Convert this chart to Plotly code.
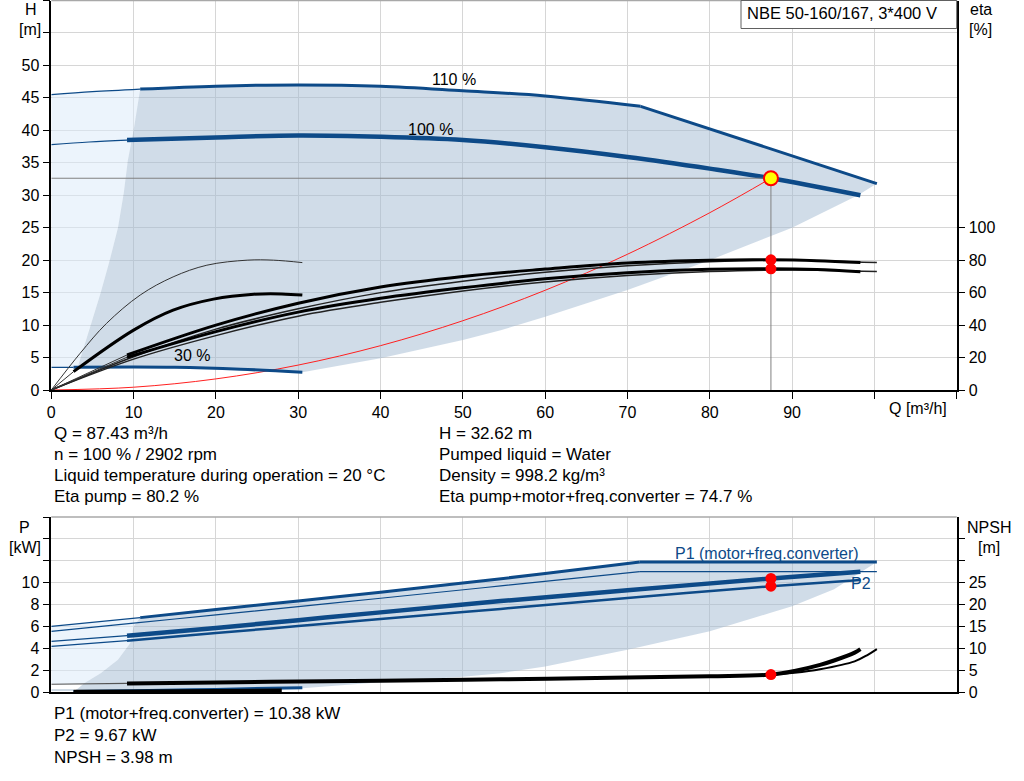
import plotly.graph_objects as go

# operating point
q_op = 87.43
h_op = 32.62
eta_pump_op = 80.2
eta_total_op = 74.7
p1_op = 10.38
p2_op = 9.67
npsh_op = 3.98

# head curves  (Q [m3/h], H [m])
q_110_thin = [0, 5, 10.8]
h_110_thin = [45.5, 45.95, 46.35]
q_110 = [10.8, 20, 30, 40, 50, 60, 71.6]
h_110 = [46.35, 46.8, 47.0, 46.8, 46.1, 45.3, 43.7]
q_110_lim = [71.6, 100.3]
h_110_lim = [43.7, 31.8]

q_100_thin = [0, 4.6, 9.2]
h_100_thin = [37.8, 38.2, 38.5]
q_100 = [9.2, 20, 30, 40, 50, 60, 70, 80, 87.43, 98.3]
h_100 = [38.5, 38.9, 39.2, 39.0, 38.5, 37.4, 35.9, 34.1, 32.62, 30.0]

q_30_thin = [0, 2.7]
h_30_thin = [3.5, 3.5]
q_30 = [2.7, 10, 15, 23, 30.5]
h_30 = [3.5, 3.55, 3.5, 3.2, 2.75]

# system curve through the duty point
q_sys = [0, 10, 20, 30, 40, 50, 60, 70, 80, 87.43]
h_sys = [0, 0.43, 1.71, 3.84, 6.83, 10.67, 15.36, 20.91, 27.31, 32.62]

# operating range (H)
q_area = [10.8, 20, 30, 40, 50, 60, 71.6, 100.3, 98, 90, 80, 70, 60, 54.6, 50, 40, 30.5,
          23, 15, 10, 3.2, 4.7, 6.0, 7.1, 8.1, 8.8, 9.3, 10, 10.8]
h_area = [46.35, 46.8, 47.0, 46.8, 46.1, 45.3, 43.7, 31.8, 30.0, 25.0, 20.0, 15.4, 11.3, 9.2, 7.7, 4.9, 2.75,
          3.2, 3.5, 3.55, 3.5, 9.7, 15.0, 20.0, 25.0, 30.3, 35.4, 40.0, 46.35]
q_area_lo = [0, 0, 5, 10.8, 10, 9.3, 8.8, 8.1, 7.1, 6.0, 4.7, 3.2, 0]
h_area_lo = [3.5, 45.5, 45.95, 46.35, 40.0, 35.4, 30.3, 25.0, 20.0, 15.0, 9.7, 3.5, 3.5]

# efficiency curves (eta %)
q_ep30 = [0, 3.5, 6.7, 10.8, 14.8, 18.9, 23.8, 27, 30.5]
eta_ep30 = [0, 22.6, 41, 58.5, 69.7, 76.9, 80, 80, 78.5]
q_et30_thin = [0, 2.7]
eta_et30_thin = [0, 11.3]
q_et30 = [2.7, 10, 14.8, 19.7, 24.6, 28, 30.5]
eta_et30 = [11.3, 36.9, 49.2, 56, 59, 59.2, 58.5]

q_ep100_thin = [0, 9.2]
eta_ep100_thin = [0, 21.6]
q_ep100 = [9.2, 20, 30, 40, 50, 60, 70, 80, 87.43, 93, 98.3]
eta_ep100 = [21.6, 40, 53.5, 63.5, 70, 74.5, 78.3, 80, 80.2, 79.7, 78.5]
q_et100_thin = [0, 9.2]
eta_et100_thin = [0, 20.2]
q_et100 = [9.2, 20, 30, 40, 50, 60, 70, 80, 87.43, 93, 98.3]
eta_et100 = [20.2, 36, 48, 56.5, 63, 68.5, 72.3, 74.4, 74.7, 74.2, 72.8]

q_e110 = [0, 10, 20, 30, 40, 50, 60, 70, 80, 90, 100.3]
eta_ep110 = [0, 20.5, 37.5, 50, 60, 67, 72.5, 76.5, 79, 80, 78.5]
eta_et110 = [0, 19, 33.5, 45.5, 54, 61, 66.5, 70.5, 73, 74, 73]

# power curves (P [kW])
q_p1_110_thin = [0, 10.8]
p1_110_thin = [6.0, 6.8]
q_p1_110 = [10.8, 20, 30, 40, 50, 60, 71.5]
p1_110 = [6.8, 7.55, 8.33, 9.13, 9.96, 10.83, 11.88]
q_p1_110_lim = [71.5, 100.3]
p1_110_lim = [11.88, 11.88]
q_p2_110 = [0, 10, 20, 30, 40, 54.6, 71.5]
p2_110 = [5.55, 6.3, 7.05, 7.8, 8.57, 9.7, 11.0]
q_p2_110_lim = [71.5, 100.3]
p2_110_lim = [11.0, 11.0]

q_p100_thin = [0, 9.2]
p1_100_thin = [4.63, 5.15]
p2_100_thin = [4.17, 4.69]
q_p100 = [9.2, 20, 30, 40, 54.6, 70, 87.43, 98.3]
p1_100 = [5.15, 5.86, 6.57, 7.28, 8.31, 9.3, 10.38, 11.0]
p2_100 = [4.69, 5.39, 6.03, 6.67, 7.6, 8.6, 9.67, 10.25]

q_p30_thin = [0, 2.7]
p1_30_thin = [0.18, 0.18]
q_p30 = [2.7, 10, 20, 30.5]
p1_30 = [0.05, 0.12, 0.24, 0.4]

# operating range (P)
q_parea = [10.8, 20, 30, 40, 50, 60, 71.5, 100.3, 95.1, 90, 87.4, 80, 70, 60, 54.6, 50, 40, 30.5,
           20, 10, 2.6, 3.2, 4.0, 6.0, 8.1, 9.6, 10, 10.8]
p_parea = [6.8, 7.55, 8.33, 9.13, 9.96, 10.83, 11.88, 11.88, 9.4, 7.85, 7.24, 5.55, 3.86, 2.33, 1.72, 1.4, 0.9,
           0.35, 0.25, 0.12, 0.05, 0.3, 0.8, 1.72, 2.94, 4.47, 6.0, 6.8]
q_parea_lo = [0, 0, 10.8, 10, 9.6, 8.1, 6.0, 4.0, 3.8, 0]
p_parea_lo = [0.71, 6.0, 6.8, 6.0, 4.47, 2.94, 1.72, 0.8, 0.71, 0.71]

# NPSH curves (m)
q_npsh100_thin = [0, 9.2]
npsh100_thin = [1.77, 1.95]
q_npsh100 = [9.2, 20, 30, 40, 54.6, 70, 80, 87.43, 90.3, 93.4, 95.1, 97.6, 98.3]
npsh100 = [1.95, 2.2, 2.4, 2.6, 2.9, 3.3, 3.6, 3.98, 4.8, 6.2, 7.2, 9.0, 9.8]
q_npsh110 = [60, 70, 80, 87.43, 90.3, 93.4, 97.6, 99.2, 100.3]
npsh110 = [3.0, 3.3, 3.6, 3.98, 4.4, 5.2, 7.0, 8.5, 9.8]
q_npsh30 = [2.7, 10, 20, 28]
npsh30 = [0.05, 0.12, 0.22, 0.35]

# axis ticks
q_ticks = list(range(0, 111, 10))
q_ticktext = [str(v) for v in range(0, 91, 10)] + ["", ""]
h_ticks = list(range(0, 61, 5))
h_ticktext = [str(v) for v in range(0, 51, 5)] + ["", ""]
eta_ticks = list(range(0, 101, 20))
p_ticks = list(range(0, 17, 2))
p_ticktext = [str(v) for v in range(0, 11, 2)] + ["", "", ""]
npsh_ticks = list(range(0, 36, 5))
npsh_ticktext = [str(v) for v in range(0, 26, 5)] + ["", ""]

W, H = 1024, 781
BLUE = "#0d4a88"
GRID = "#d6d6d6"
FILL = "rgba(161,185,209,0.5)"
FILL_LO = "rgba(221,235,249,0.55)"
FONT = "Liberation Sans, Arial, sans-serif"


def px(x):
    return x / W


def py(y):
    return 1 - y / H


fig = go.Figure()


def curve(q, v, xa, ya, color, width, shape="spline"):
    fig.add_trace(go.Scatter(
        x=q, y=v, xaxis=xa, yaxis=ya, mode="lines",
        line=dict(color=color, width=width, shape=shape), hoverinfo="skip"))


def area(q, v, xa, ya, color):
    fig.add_trace(go.Scatter(
        x=q, y=v, xaxis=xa, yaxis=ya, mode="lines", line=dict(width=0),
        fill="toself", fillcolor=color, hoverinfo="skip"))


# ---- top chart: H and eta ----
area(q_area_lo, h_area_lo, "x", "y", FILL_LO)
area(q_area, h_area, "x", "y", FILL)

curve(q_sys, h_sys, "x", "y", "#ff2020", 1)

curve(q_110_thin, h_110_thin, "x", "y", BLUE, 1.2)
curve(q_110, h_110, "x", "y", BLUE, 3)
curve(q_110_lim, h_110_lim, "x", "y", BLUE, 3, shape="linear")
curve(q_100_thin, h_100_thin, "x", "y", BLUE, 1.2)
curve(q_100, h_100, "x", "y", BLUE, 4.5)
curve(q_30_thin, h_30_thin, "x", "y", BLUE, 1.2)
curve(q_30, h_30, "x", "y", BLUE, 3)

curve(q_ep30, eta_ep30, "x", "y2", "#333333", 1)
curve(q_et30_thin, eta_et30_thin, "x", "y2", "#333333", 1)
curve(q_et30, eta_et30, "x", "y2", "black", 3)
curve(q_e110, eta_ep110, "x", "y2", "#222222", 1.5)
curve(q_e110, eta_et110, "x", "y2", "#222222", 1.5)
curve(q_ep100_thin, eta_ep100_thin, "x", "y2", "#333333", 1)
curve(q_et100_thin, eta_et100_thin, "x", "y2", "#333333", 1)
curve(q_ep100, eta_ep100, "x", "y2", "black", 3)
curve(q_et100, eta_et100, "x", "y2", "black", 3)

# duty point guide lines
curve([0, q_op], [h_op, h_op], "x", "y", "#808080", 1, shape="linear")
curve([q_op, q_op], [h_op, 0], "x", "y", "#808080", 1, shape="linear")

fig.add_trace(go.Scatter(x=[q_op, q_op], y=[eta_pump_op, eta_total_op], xaxis="x", yaxis="y2",
                         mode="markers", marker=dict(color="red", size=11), hoverinfo="skip"))
fig.add_trace(go.Scatter(x=[q_op], y=[h_op], xaxis="x", yaxis="y", mode="markers",
                         marker=dict(color="yellow", size=14, line=dict(color="red", width=2)),
                         hoverinfo="skip"))

# ---- bottom chart: P and NPSH ----
area(q_parea_lo, p_parea_lo, "x2", "y3", FILL_LO)
area(q_parea, p_parea, "x2", "y3", FILL)

curve(q_p1_110_thin, p1_110_thin, "x2", "y3", BLUE, 1.2)
curve(q_p1_110, p1_110, "x2", "y3", BLUE, 3)
curve(q_p1_110_lim, p1_110_lim, "x2", "y3", BLUE, 3, shape="linear")
curve(q_p2_110, p2_110, "x2", "y3", BLUE, 1.2)
curve(q_p2_110_lim, p2_110_lim, "x2", "y3", BLUE, 1.2, shape="linear")
curve(q_p100_thin, p1_100_thin, "x2", "y3", BLUE, 1.2)
curve(q_p100_thin, p2_100_thin, "x2", "y3", BLUE, 1.2)
curve(q_p100, p1_100, "x2", "y3", BLUE, 4.5)
curve(q_p100, p2_100, "x2", "y3", BLUE, 2.5)

curve(q_npsh100_thin, npsh100_thin, "x2", "y4", "#555555", 1.2)
curve(q_npsh100, npsh100, "x2", "y4", "black", 4)
curve(q_npsh110, npsh110, "x2", "y4", "black", 2)
curve(q_npsh30, npsh30, "x2", "y4", "black", 4)
curve(q_p30_thin, p1_30_thin, "x2", "y3", "#9fb6cc", 1)
curve(q_p30, p1_30, "x2", "y3", BLUE, 3)

fig.add_trace(go.Scatter(x=[q_op, q_op], y=[p1_op, p2_op], xaxis="x2", yaxis="y3",
                         mode="markers", marker=dict(color="red", size=11), hoverinfo="skip"))
fig.add_trace(go.Scatter(x=[q_op], y=[npsh_op], xaxis="x2", yaxis="y4",
                         mode="markers", marker=dict(color="red", size=11), hoverinfo="skip"))

X0, X1 = px(51.3), px(956.7)
TOP = [py(390), py(0.5)]
BOT = [py(692), py(517)]

axis_common = dict(showline=True, linecolor="black", linewidth=1.5, ticks="outside",
                   ticklen=7, tickcolor="black", zeroline=False, automargin=False,
                   tickfont=dict(family=FONT, size=16, color="black"))

fig.update_layout(
    width=W, height=H, margin=dict(l=0, r=0, t=0, b=0, autoexpand=False),
    paper_bgcolor="white", plot_bgcolor="white", showlegend=False,
    font=dict(family=FONT, size=16, color="black"),
    xaxis=dict(domain=[X0, X1], range=[0, 110], anchor="y", tickmode="array",
               tickvals=q_ticks, ticktext=q_ticktext, showgrid=True, gridcolor=GRID, **axis_common),
    yaxis=dict(domain=TOP, range=[0, 60], anchor="x", tickmode="array",
               tickvals=h_ticks, ticktext=h_ticktext, showgrid=True, gridcolor=GRID, **axis_common),
    yaxis2=dict(domain=TOP, range=[0, 240], anchor="x", overlaying="y", side="right",
                tickmode="array", tickvals=eta_ticks, showgrid=False, **axis_common),
    xaxis2=dict(domain=[X0, X1], range=[0, 110], anchor="y3", tickmode="array",
                tickvals=q_ticks, showticklabels=False, showgrid=True, gridcolor=GRID,
                showline=True, linecolor="black", linewidth=1.5, ticks="", zeroline=False,
                automargin=False),
    yaxis3=dict(domain=BOT, range=[0, 16], anchor="x2", tickmode="array",
                tickvals=p_ticks, ticktext=p_ticktext, showgrid=True, gridcolor=GRID, **axis_common),
    yaxis4=dict(domain=BOT, range=[0, 40], anchor="x2", overlaying="y3", side="right",
                tickmode="array", tickvals=npsh_ticks, ticktext=npsh_ticktext, showgrid=False,
                **axis_common),
)

# top borders and title box
fig.add_shape(type="line", xref="paper", yref="paper", x0=X0, x1=X1, y0=py(0.5), y1=py(0.5),
              line=dict(color="#a8a8a8", width=1.5))
fig.add_shape(type="line", xref="paper", yref="paper", x0=X0, x1=X1, y0=py(517), y1=py(517),
              line=dict(color="#a8a8a8", width=1.5))
fig.add_shape(type="rect", xref="paper", yref="paper", x0=px(741), x1=X1, y0=py(28.5), y1=py(0.5),
              line=dict(color="#606060", width=1), fillcolor="white")


def label(x, y, text, anchor="center", color="black", size=17):
    fig.add_annotation(x=px(x), y=py(y), xref="paper", yref="paper", text=text, showarrow=False,
                       xanchor=anchor, yanchor="middle",
                       font=dict(family=FONT, size=size, color=color))


label(842, 13.5, "NBE 50-160/167, 3*400 V", size=16.5)
label(31, 10, "H", size=16)
label(30, 30, "[m]", size=16)
label(981, 10, "eta", size=16)
label(980, 30, "[%]", size=16)
label(24, 527, "P", size=16)
label(25, 547, "[kW]", size=16)
label(989, 527, "NPSH", size=16)
label(989, 547, "[m]", size=16)
label(918, 408, "Q [m³/h]", size=16)
label(454, 80, "110 %", size=16)
label(430, 129, "100 %", size=16)
label(192, 355, "30 %", size=16)
label(767, 553, "P1 (motor+freq.converter)", color=BLUE, size=16)
label(861, 583, "P2", color=BLUE, size=16)

left_col = ["Q = %.2f m³/h" % q_op, "n = 100 % / 2902 rpm",
            "Liquid temperature during operation = 20 °C", "Eta pump = %.1f %%" % eta_pump_op]
right_col = ["H = %.2f m" % h_op, "Pumped liquid = Water", "Density = 998.2 kg/m³",
             "Eta pump+motor+freq.converter = %.1f %%" % eta_total_op]
for i, t in enumerate(left_col):
    label(52, 433 + 21.3 * i, t, anchor="left")
for i, t in enumerate(right_col):
    label(437, 433 + 21.3 * i, t, anchor="left")

bottom_col = ["P1 (motor+freq.converter) = %.2f kW" % p1_op, "P2 = %.2f kW" % p2_op,
              "NPSH = %.2f m" % npsh_op]
for i, t in enumerate(bottom_col):
    label(52, 713 + 22 * i, t, anchor="left")

fig.write_html("out.html", config={"displayModeBar": False},
               post_script="document.body.style.margin='0px';")
